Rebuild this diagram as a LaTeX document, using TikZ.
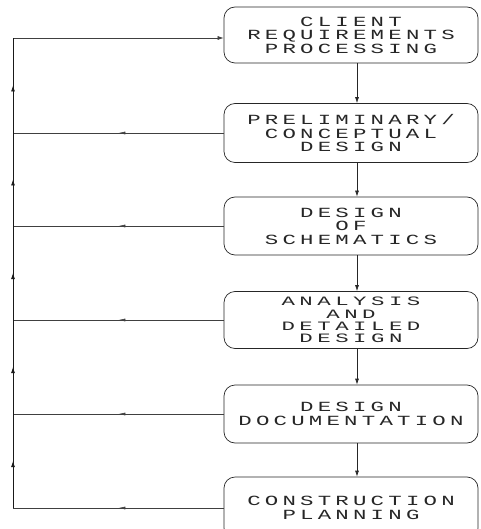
\documentclass[tikz,border=0pt]{standalone}
\usepackage{fontspec}
\usetikzlibrary{arrows.meta,decorations.markings}
\newfontfamily\cadfont[FakeStretch=1.6,LetterSpace=30]{Liberation Mono}
\newfontfamily\cadfontwide[FakeStretch=1.75,LetterSpace=35]{Liberation Mono}
\begin{document}
\begin{tikzpicture}[x=1pt,y=-1pt,
  stagebox/.style={draw=black!85,line width=0.7pt,rounded corners=11pt,
    minimum width=254pt,inner sep=0pt,align=center,text=black!85,
    font={\cadfont\fontsize{14}{13.5}\selectfont}},
  flow/.style={draw=black!85,line width=0.7pt,-{Latex[length=6pt,width=4pt]}},
  back/.style={draw=black!75,line width=0.6pt,postaction={decorate},
    decoration={markings,mark=at position 0.5 with {\arrow{Latex[length=7pt,width=3pt]}}}},
  spine/.style={draw=black!90,line width=0.8pt,postaction={decorate},
    decoration={markings,mark=at position 0.5 with {\arrow{Latex[length=6pt,width=4pt]}}}}]
\useasboundingbox (0,0) rectangle (480,529);
\begin{scope}
\clip (0,0) rectangle (480,529);
\node[stagebox,minimum height=56pt] (b1) at (351,35) {CLIENT\\REQUIREMENTS\\PROCESSING};
\node[stagebox,minimum height=59pt] (b2) at (351,133) {PRELIMINARY/\\CONCEPTUAL\\DESIGN};
\node[stagebox,minimum height=58pt] (b3) at (351,226) {DESIGN\\OF\\SCHEMATICS};
\node[stagebox,minimum height=57pt,font={\cadfontwide\fontsize{12.8}{12.3}\selectfont}] (b4) at (351,320) {ANALYSIS\\AND\\DETAILED\\DESIGN};
\node[stagebox,minimum height=58pt] (b5) at (351,414) {DESIGN\\DOCUMENTATION};
\node[stagebox,minimum height=62pt] (b6) at (351,508) {CONSTRUCTION\\PLANNING};
\end{scope}
\coordinate (ax) at (357,0);
\coordinate (lx) at (13,0);
\foreach \i/\j in {1/2,2/3,3/4,4/5,5/6}
  \draw[flow] (b\i.south -| ax) -- (b\j.north -| ax);
% feedback lines
\foreach \i in {2,...,6}
  \coordinate (c\i) at (b\i.west -| lx);
\coordinate (c1) at ([yshift=-3pt]b1.west -| lx);
\foreach \i in {2,...,6}
  \draw[back] (b\i.west) -- (c\i);
\draw[flow,draw=black!75,line width=0.6pt] (c1) -- ([yshift=-3pt]b1.west);
\foreach \i/\j in {6/5,5/4,4/3,3/2,2/1}
  \draw[spine] (c\i) -- (c\j);
\end{tikzpicture}
\end{document}
